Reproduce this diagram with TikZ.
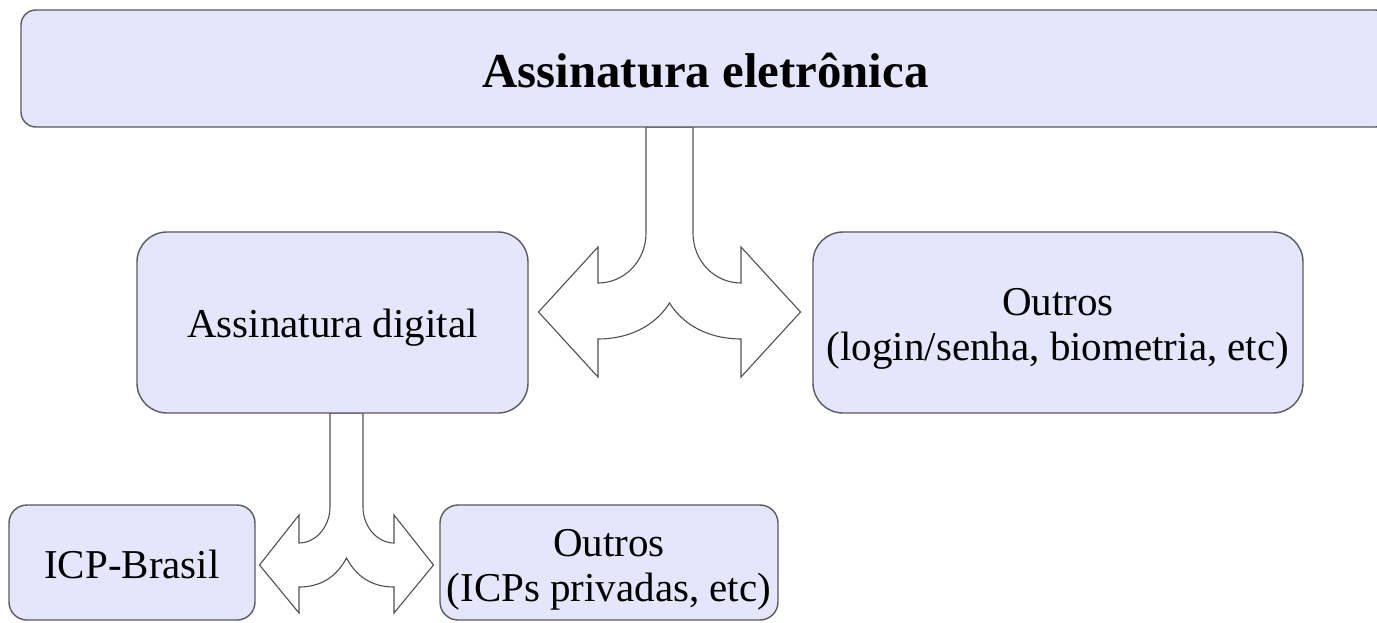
\documentclass[tikz,border=0pt]{standalone}
\usepackage{fontspec}
\setmainfont{Liberation Serif}
\definecolor{boxfill}{HTML}{E5E5FB}
\definecolor{boxline}{HTML}{5A5A60}
\definecolor{arrline}{HTML}{505050}
\tikzset{
  box/.style={draw=boxline, fill=boxfill, line width=0.7pt, inner sep=0pt},
  boxtext/.style={inner sep=0pt, align=center, font=\fontsize{20.5}{22.5}\selectfont},
  blockarrow/.style={draw=arrline, fill=white, line width=0.55pt, line join=miter}
}
\begin{document}
\begin{tikzpicture}[x=0.5pt, y=-0.5pt]
\clip (0,0) rectangle (1377,622);
\fill[white] (0,0) rectangle (1377,622);

% arrows (drawn first, boxes on top)
\coordinate (a1) at (669.5,127);
\coordinate (a2) at (346.5,413);
\begin{scope}[shift={(a1)}]
\draw[blockarrow] (-23.5,0) -- (-23.5,106) .. controls (-23.5,134) and (-45,156) .. (-71.5,156)
  -- (-71.5,120) -- (-131,185) -- (-71.5,250) -- (-71.5,212)
  .. controls (-42,212) and (-15,200) .. (0,176)
  .. controls (15,200) and (42,212) .. (71.5,212)
  -- (71.5,250) -- (131,185) -- (71.5,120) -- (71.5,156)
  .. controls (45,156) and (23.5,134) .. (23.5,106) -- (23.5,0) -- cycle;
\end{scope}
\begin{scope}[shift={(a2)}]
\draw[blockarrow] (-16.5,0) -- (-16.5,94) .. controls (-16.5,114) and (-31,130) .. (-47.5,130)
  -- (-47.5,102) -- (-87,152) -- (-47.5,200) -- (-47.5,174)
  .. controls (-26,174) and (-10,164) .. (0,145)
  .. controls (10,164) and (26,174) .. (47.5,174)
  -- (47.5,200) -- (87,152) -- (47.5,102) -- (47.5,130)
  .. controls (31,130) and (16.5,114) .. (16.5,94) -- (16.5,0) -- cycle;
\end{scope}

% boxes
\node[box, rounded corners=7.5pt, minimum width=684.5pt, minimum height=58.5pt] (title) at (705.5,68.5) {};
\node[box, rounded corners=15pt, minimum width=195.5pt, minimum height=90.5pt] (digital) at (332.5,322.5) {};
\node[box, rounded corners=15pt, minimum width=245pt, minimum height=90.5pt] (outros1) at (1058,322.5) {};
\node[box, rounded corners=9pt, minimum width=123pt, minimum height=57.5pt] (icp) at (132,562.5) {};
\node[box, rounded corners=9pt, minimum width=169pt, minimum height=57.5pt] (outros2) at (609,562.5) {};

% texts
\node[boxtext, font=\fontsize{24.4}{28}\selectfont\bfseries] (title-t) at ([yshift=-1pt]title.center) {Assinatura eletrônica};
\node[boxtext] (digital-t) at ([yshift=-2.5pt]digital.center) {Assinatura digital};
\node[boxtext] (outros1-t) at ([yshift=-3pt]outros1.center) {Outros\\(login/senha, biometria, etc)};
\node[boxtext] (icp-t) at ([yshift=-1pt]icp.center) {ICP-Brasil};
\node[boxtext] (outros2-t) at ([yshift=-3.5pt]outros2.center) {Outros\\(ICPs privadas, etc)};
\end{tikzpicture}
\end{document}
